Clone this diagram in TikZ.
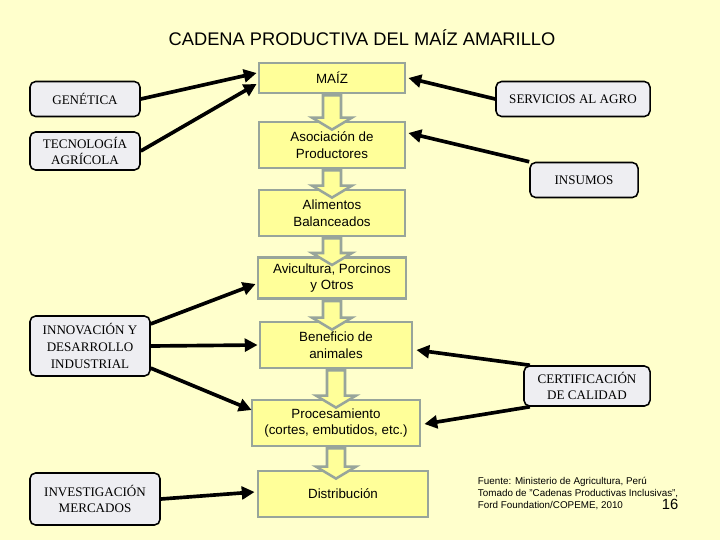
\documentclass[tikz,border=0pt]{standalone}
\usepackage{fontspec}
\setmainfont{Liberation Serif}
\setsansfont{Liberation Sans}
\usepackage{xcolor}
\usetikzlibrary{positioning, arrows.meta, calc}
\definecolor{slidebg}{HTML}{FFFFCC}
\definecolor{chainfill}{HTML}{FFFF99}
\definecolor{chainedge}{HTML}{98A59B}
\definecolor{sidefill}{HTML}{EEEEF2}
\newcommand{\chainstep}[2]{%
  \draw[blockarr] ($(#1.south)+(-9,1)$) -- ($(#1.south)+(9,1)$)
    -- ($(#1.south |- #2.north)+(9,-3)$) -- ($(#1.south |- #2.north)+(20,-3)$)
    -- ($(#1.south |- #2.north)+(0,9)$) -- ($(#1.south |- #2.north)+(-20,-3)$)
    -- ($(#1.south |- #2.north)+(-9,-3)$) -- cycle;}

\begin{document}
\begin{tikzpicture}[
  x=0.025cm, y=-0.025cm,
  >={Triangle[length=3.2mm, width=3.2mm]},
  chain/.style={
    draw=chainedge, fill=chainfill, line width=2pt,
    minimum width=3.65cm, minimum height=1.15cm,
    align=center, inner sep=1pt,
    font=\sffamily\fontsize{9.5}{12}\selectfont
  },
  side/.style={
    draw=black, fill=sidefill, rounded corners=4pt, line width=1.1pt,
    minimum height=0.875cm, align=center, inner sep=1pt,
    font=\fontsize{9.3}{12}\selectfont
  },
  link/.style={->, line width=2.6pt, black},
  blockarr/.style={draw=chainedge, fill=chainfill, line width=1.8pt, line join=miter}
]

% background and frame
\fill[slidebg] (0,0) rectangle (720,540);
\useasboundingbox (0,0) rectangle (720,540);

% Title
\node[font=\sffamily\fontsize{13}{15}\selectfont] (title) at (362,38)
  {CADENA PRODUCTIVA DEL MAÍZ AMARILLO};

% Central chain
\node[chain, minimum height=0.75cm] (maiz) at (332,78) {MAÍZ};
\node[chain] (asoc) at (332,145) {Asociación de\\Productores};
\node[chain] (alim) at (332,213) {Alimentos\\Balanceados};
\node[chain, minimum width=3.7cm, minimum height=1.03cm] (avic) at (332,278)
  {Avicultura, Porcinos\\y Otros};
\node[chain, minimum width=3.8cm] (benef) at (336,345) {Beneficio de\\animales};
\node[chain, minimum width=4.2cm] (proc) at (336,423)
  {Procesamiento\\(cortes, embutidos, etc.)};
\node[chain, minimum width=4.25cm] (distr) at (343,494) {Distribución};

% Block arrows down the chain
\chainstep{maiz}{asoc}
\chainstep{asoc}{alim}
\chainstep{alim}{avic}
\chainstep{avic}{benef}
\chainstep{benef}{proc}
\chainstep{proc}{distr}

% Left side
\node[side, minimum width=2.75cm] (genet) at (85,99) {GENÉTICA};
\node[side, minimum width=2.75cm, minimum height=0.95cm] (tecno) at (85,151)
  {TECNOLOGÍA\\AGRÍCOLA};
\node[side, minimum width=3.0cm, minimum height=1.5cm] (innov) at (90,346)
  {INNOVACIÓN Y\\DESARROLLO\\INDUSTRIAL};
\node[side, minimum width=3.25cm, minimum height=1.3cm] (inves) at (95,499)
  {INVESTIGACIÓN\\MERCADOS};

% Right side
\node[side, minimum width=3.85cm] (servi) at (573,99) {SERVICIOS AL AGRO};
\node[side, minimum width=2.7cm] (insum) at (584,180) {INSUMOS};
\node[side, minimum width=3.15cm, minimum height=1.0cm] (certi) at (587,386)
  {CERTIFICACIÓN\\DE CALIDAD};

% Links into the chain
\draw[link] (genet.east) -- ($(maiz.west)+(-1,-5)$);
\draw[link] (tecno.east) -- ($(maiz.west)+(-1,6)$);
\draw[link] (servi.west) -- ($(maiz.east)+(2,0)$);
\draw[link] (insum.north west) -- ($(asoc.east)+(2,-12)$);
\draw[link] (innov.20) -- ($(avic.west)+(-1,6)$);
\draw[link] (innov.east) -- ($(benef.west)+(-1,0)$);
\draw[link] (innov.-20) -- ($(proc.west)+(1,-13)$);
\draw[link] (certi.160) -- ($(benef.east)+(3,5)$);
\draw[link] (certi.200) -- ($(proc.east)+(3,1)$);
\draw[link] (inves.east) -- ($(distr.west)+(-2,-2)$);

% Source note
\node[font=\sffamily\fontsize{7}{8.6}\selectfont, align=left, anchor=north west]
  (fuente) at (473,472)
  {Fuente: Ministerio de Agricultura, Perú\\
   Tomado de "Cadenas Productivas Inclusivas",\\
   Ford Foundation/COPEME, 2010};
\node[font=\sffamily\fontsize{10.5}{12}\selectfont] (pagenum) at (670,504) {16};

\end{tikzpicture}
\end{document}
